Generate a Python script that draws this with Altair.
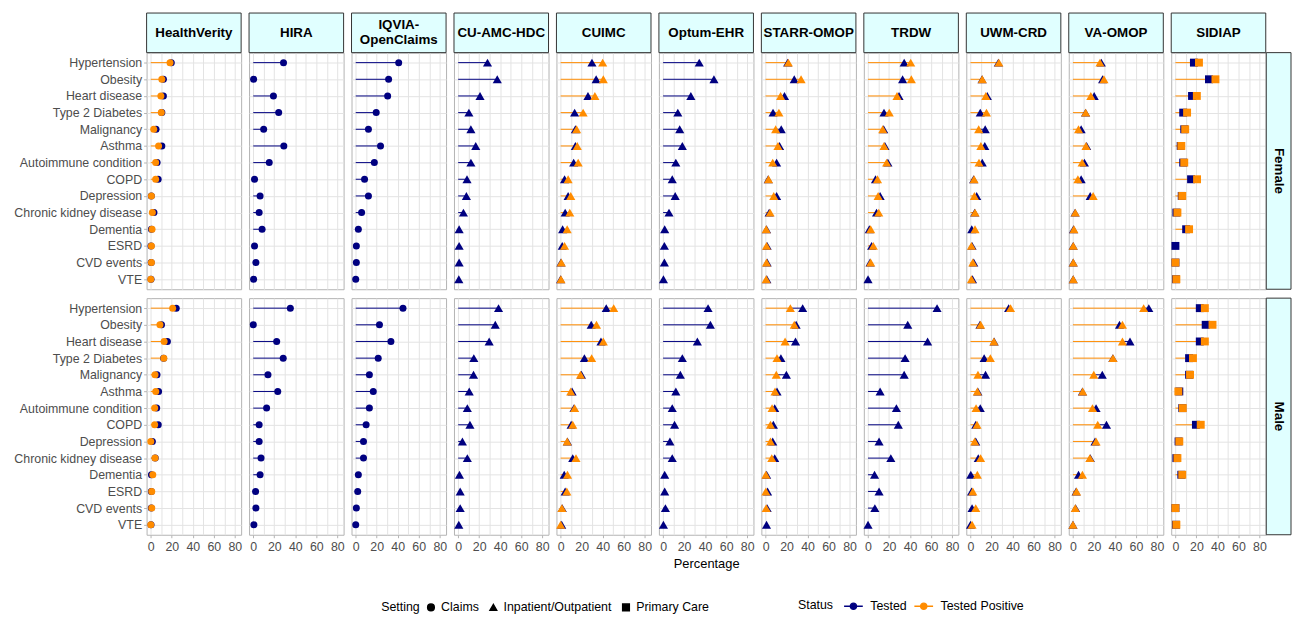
import altair as alt
import pandas as pd

CONDITIONS = ["Hypertension", "Obesity", "Heart disease", "Type 2 Diabetes", "Malignancy",
              "Asthma", "Autoimmune condition", "COPD", "Depression", "Chronic kidney disease",
              "Dementia", "ESRD", "CVD events", "VTE"]
DATABASES = ["HealthVerity", "HIRA", "IQVIA-OpenClaims", "CU-AMC-HDC", "CUIMC", "Optum-EHR",
             "STARR-OMOP", "TRDW", "UWM-CRD", "VA-OMOP", "SIDIAP"]
STRIP_TEXT = ["HealthVerity", "HIRA", "IQVIA-\nOpenClaims", "CU-AMC-HDC", "CUIMC", "Optum-EHR",
              "STARR-OMOP", "TRDW", "UWM-CRD", "VA-OMOP", "SIDIAP"]
DB_SETTING = ["Claims", "Claims", "Claims", "Inpatient/Outpatient", "Inpatient/Outpatient",
              "Inpatient/Outpatient", "Inpatient/Outpatient", "Inpatient/Outpatient",
              "Inpatient/Outpatient", "Inpatient/Outpatient", "Primary Care"]
SEXES = ["Female", "Male"]
STATUSES = ["Tested", "Tested Positive"]
SETTINGS = ["Claims", "Inpatient/Outpatient", "Primary Care"]
SHAPES = ["circle", "triangle-up", "square"]
SYMBOL_SIZES = [50, 85, 64]
COLORS = ["#000080", "#FF8C00"]
X_GRID = [0, 10, 20, 30, 40, 50, 60, 70, 80]
N = None

# values in percent, order as CONDITIONS
HV_F_T = [19.5, 12, 12, 10.5, 5, 10.5, 6, 7, 0.5, 3, 0.6, 0.2, 0.4, 0.2]
HV_F_P = [18.3, 10.5, 9.6, 10, 2.8, 7.4, 4.6, 4.6, 0.6, 1.5, 1.2, 0.6, 0.6, 0]
HV_M_T = [24.2, 10.2, 15.8, 12.2, 5.9, 7.4, 5.6, 7.1, 1.5, 4.2, 0.6, 0.5, 0.5, 0.2]
HV_M_P = [20.8, 8.7, 12.7, 12.4, 4, 4.7, 3.7, 3.7, 0, 4, 1.9, 0.9, 0.9, 0]

HIRA_F_T = [28.8, 0.3, 19.2, 24.2, 9.9, 29.1, 15.2, 1.2, 6.5, 5.6, 8.4, 1.2, 2.5, 0.3]
HIRA_M_T = [35.3, 0, 22.3, 28.5, 14, 23.3, 12.7, 5.6, 5.6, 7.4, 6.5, 2.2, 2.5, 0.6]

IQ_F_T = [40.9, 31.3, 30.4, 19.5, 12.1, 23.6, 17.7, 8.4, 12.1, 5.6, 2.5, 0.6, 0.6, 0]
IQ_M_T = [45, 22.6, 33.5, 21.4, 13, 16.7, 13, 9.9, 7.4, 7.4, 2.5, 1.9, 0.6, 0]

CUAMC_F_T = [27.9, 37.2, 20.8, 10.2, 12.1, 16.7, 12.1, 8.4, 7.8, 5, 0.9, 0.9, 0.9, 0.6]
CUAMC_M_T = [38.4, 35.3, 29.5, 14.9, 14.6, 10.5, 8.7, 11.2, 4, 8.7, 1.2, 1.9, 1.9, 0.6]

CUIMC_F_T = [29.8, 33.8, 26, 13.3, 14, 14, 12.4, 3.7, 7.1, 4.3, 1.9, 1.5, 0.3, 0]
CUIMC_F_P = [40, 40.6, 32.6, 21.4, 15.2, 15.8, 16.7, 7.1, 9.6, 8.7, 6.2, 3.7, 0.6, 0.3]
CUIMC_M_T = [43.4, 29.1, 38.4, 22.6, 19.8, 10.9, 12.7, 10, 6.5, 11.5, 3.4, 4.3, 1.5, 1]
CUIMC_M_P = [50.5, 34.1, 40.6, 29.5, 18.9, 9.6, 13.3, 11.5, 6.2, 14.6, 6.5, 5.9, 1.2, 0]

OPTUM_F_T = [34.4, 48.4, 26.4, 14, 15.8, 18.3, 12.1, 8.7, 11.5, 5.6, 1.5, 1.2, 1.2, 0.3]
OPTUM_M_T = [42.8, 45, 32.6, 18.3, 16.4, 12.1, 8.7, 10.9, 6.5, 8.7, 1.5, 1.5, 2.2, 0.3]

STARR_F_T = [21, 27.3, 18, 7.1, 14.9, 13.3, 10.5, 2.5, 10.5, 3.4, 0.9, 1.5, 1.5, 1.2]
STARR_F_P = [21.7, 33.8, 14.3, 12.7, 9.6, 11.8, 6.8, 2.8, 7.8, 4.3, 0.6, 0.9, 0.9, 0.6]
STARR_M_T = [35.3, 29.1, 28.5, 14.6, 19.8, 10.9, 8.7, 7.4, 6.8, 8.7, 1, 1.9, 1.5, 0.9]
STARR_M_P = [23.6, 27.3, 18.6, 10.9, 10.2, 9, 6.2, 4.7, 4.7, 5.9, 0.3, 0.3, 0.6, N]

TRDW_F_T = [34.4, 32.9, 29.5, 15.2, 14.9, 16.1, 18.9, 7.1, 11.5, 8.1, 1.2, 3.4, 1.9, 0]
TRDW_F_P = [40.6, 41.2, 27.6, 20.2, 14, 15.2, 17.7, 9, 9.6, 10.2, 2.5, 5, 2.5, N]
TRDW_M_T = [65.7, 37.8, 56.7, 35.3, 34.4, 11.5, 27, 28.8, 10.5, 21.7, 6.2, 10.5, 6.5, 0]

UWM_F_T = [26.5, 11, 16, 9.3, 14, 13.6, 11.2, 3, 5.9, 4, 1.2, 1.5, 3.1, 1.9]
UWM_F_P = [27, 11.2, 14.6, 15.2, 7.8, 9.9, 8.1, 3.4, 3.7, 4.3, 4.3, 0.9, 2.2, 0.9]
UWM_M_T = [36.3, 9, 22.5, 13, 14.3, 7, 9.3, 5, 5, 7.4, 0.3, 1, 1.5, 0]
UWM_M_P = [38.1, 9.6, 22.3, 18.9, 7.1, 6.5, 5.3, 6.2, 4, 9.6, 6.5, 2.2, 5, 1.5]

VA_F_T = [27, 28.2, 20.2, 12, 7.8, 13, 10.9, 7.8, 16.4, 2, 0.5, 0.2, 0.2, 0.2]
VA_F_P = [25.7, 29.5, 17, 12.1, 5.3, 12.4, 8.7, 4.7, 19.2, 2.2, 0.9, 0.3, 0.3, 0.3]
VA_M_T = [72.2, 44.3, 54.3, 38, 27.9, 9, 22, 31.9, 21, 16.5, 5.3, 3, 2.5, 0]
VA_M_P = [67.3, 47.1, 47.1, 38.1, 19.8, 9.3, 18.6, 23.6, 22, 16.1, 9, 3.4, 2.2, 0]

SIDIAP_F_T = [17.6, 31.9, 15.8, 7.4, 8.4, 5, 7.4, 14.9, 6, 0.9, 10.2, 0, 0, 0.5]
SIDIAP_F_P = [22.4, 38.1, 20.4, 11.1, 9.3, 5.6, 8.4, 20.6, 6.5, 1.9, 13, N, 0, 0.9]
SIDIAP_M_T = [23.2, 28.8, 23.2, 13, 13, 3.7, 6.5, 19.5, 3, 0.9, 5.6, N, 0, 0.5]
SIDIAP_M_P = [28, 35.3, 28, 16.7, 13.9, 2.8, 7, 24.1, 3.7, 1.9, 6.5, N, 0, 0.9]

SERIES = {
    ("HealthVerity", "Female", "Tested"): HV_F_T, ("HealthVerity", "Female", "Tested Positive"): HV_F_P,
    ("HealthVerity", "Male", "Tested"): HV_M_T, ("HealthVerity", "Male", "Tested Positive"): HV_M_P,
    ("HIRA", "Female", "Tested"): HIRA_F_T, ("HIRA", "Male", "Tested"): HIRA_M_T,
    ("IQVIA-OpenClaims", "Female", "Tested"): IQ_F_T, ("IQVIA-OpenClaims", "Male", "Tested"): IQ_M_T,
    ("CU-AMC-HDC", "Female", "Tested"): CUAMC_F_T, ("CU-AMC-HDC", "Male", "Tested"): CUAMC_M_T,
    ("CUIMC", "Female", "Tested"): CUIMC_F_T, ("CUIMC", "Female", "Tested Positive"): CUIMC_F_P,
    ("CUIMC", "Male", "Tested"): CUIMC_M_T, ("CUIMC", "Male", "Tested Positive"): CUIMC_M_P,
    ("Optum-EHR", "Female", "Tested"): OPTUM_F_T, ("Optum-EHR", "Male", "Tested"): OPTUM_M_T,
    ("STARR-OMOP", "Female", "Tested"): STARR_F_T, ("STARR-OMOP", "Female", "Tested Positive"): STARR_F_P,
    ("STARR-OMOP", "Male", "Tested"): STARR_M_T, ("STARR-OMOP", "Male", "Tested Positive"): STARR_M_P,
    ("TRDW", "Female", "Tested"): TRDW_F_T, ("TRDW", "Female", "Tested Positive"): TRDW_F_P,
    ("TRDW", "Male", "Tested"): TRDW_M_T,
    ("UWM-CRD", "Female", "Tested"): UWM_F_T, ("UWM-CRD", "Female", "Tested Positive"): UWM_F_P,
    ("UWM-CRD", "Male", "Tested"): UWM_M_T, ("UWM-CRD", "Male", "Tested Positive"): UWM_M_P,
    ("VA-OMOP", "Female", "Tested"): VA_F_T, ("VA-OMOP", "Female", "Tested Positive"): VA_F_P,
    ("VA-OMOP", "Male", "Tested"): VA_M_T, ("VA-OMOP", "Male", "Tested Positive"): VA_M_P,
    ("SIDIAP", "Female", "Tested"): SIDIAP_F_T, ("SIDIAP", "Female", "Tested Positive"): SIDIAP_F_P,
    ("SIDIAP", "Male", "Tested"): SIDIAP_M_T, ("SIDIAP", "Male", "Tested Positive"): SIDIAP_M_P,
}

rows = []
for db, setting in zip(DATABASES, DB_SETTING):
    for sex in SEXES:
        tested = SERIES.get((db, sex, "Tested"))
        positive = SERIES.get((db, sex, "Tested Positive"))
        for status, vals in (("Tested", tested), ("Tested Positive", positive)):
            if vals is None:
                continue
            for k, (cond, v) in enumerate(zip(CONDITIONS, vals)):
                if v is None:
                    continue
                start = 0
                # the Tested line runs under the Tested Positive line, so only its visible part is drawn
                if status == "Tested" and positive is not None and positive[k] is not None:
                    start = min(positive[k], v)
                rows.append(dict(db=db, sex=sex, status=status, setting=setting, cond=cond,
                                 value=v, start=start))
df = pd.DataFrame(rows)

W, H = 95.5, 239
STRIP_H = 40
ROW_STRIP_W = 25
LINE_H = 15
GRID = "#E3E3E3"
BORDER = "#B3B3B3"
LABEL = "#4D4D4D"
STRIP_FILL = "#E0FFFF"
STRIP_STROKE = "#333333"
FONT = "Liberation Sans"

color_scale = alt.Scale(domain=STATUSES, range=COLORS)
shape_scale = alt.Scale(domain=SETTINGS, range=SHAPES)
x_scale = alt.Scale(domain=[-4, 86], nice=False, zero=False)
y_scale = alt.Scale(type="point", domain=CONDITIONS, padding=0.6)

status_legend = alt.Legend(
    title="Status", orient="none", legendX=658, legendY=551, direction="horizontal",
    titleOrient="left", titleFontWeight="normal", titleFontSize=12.5, titleColor="black",
    labelFontSize=12.5, labelColor="black", titlePadding=12, columnPadding=4, labelOffset=9,
    symbolType="M-1.35,0H1.35M0.45,0A0.45,0.45,0,1,1,-0.45,0A0.45,0.45,0,1,1,0.45,0Z",
    symbolSize=196, symbolStrokeWidth=1.4, symbolOpacity=1,
)
setting_legend = alt.Legend(
    title="Setting", orient="none", legendX=237, legendY=554, direction="horizontal",
    titleOrient="left", titleFontWeight="normal", titleFontSize=12.5, titleColor="black",
    labelFontSize=12.5, labelColor="black", titlePadding=5, columnPadding=7, labelOffset=4,
    symbolFillColor="black", symbolStrokeColor="black", symbolSize=45, symbolOpacity=1,
)

tick_color = {"condition": {"test": "datum.value % 20 === 0", "value": BORDER}, "value": "transparent"}


def make_axis(bottom):
    if bottom:
        return alt.Axis(values=X_GRID, grid=True, gridColor=GRID, domain=False, ticks=True, tickSize=3,
                        tickColor=tick_color, labelExpr="datum.value % 20 === 0 ? datum.label : ''",
                        labelColor=LABEL, labelFontSize=12.5, labelPadding=3, labelFlush=False,
                        titleFontSize=13, titleFontWeight="normal", titleColor="black", titlePadding=5)
    return alt.Axis(values=X_GRID, grid=True, gridColor=GRID, domain=False, ticks=False, labels=False)


def make_y(first):
    if first:
        axis = alt.Axis(grid=True, gridColor=GRID, domain=False, ticks=True, tickSize=3, tickColor=BORDER,
                        labelColor=LABEL, labelFontSize=12.5, labelPadding=2)
    else:
        axis = alt.Axis(grid=True, gridColor=GRID, domain=False, ticks=False, labels=False)
    return alt.Y("cond:N", scale=y_scale, axis=axis, title=None)


def panel(i, db, sex):
    sub = df[(df.db == db) & (df.sex == sex)]
    bottom = sex == "Male"
    axis = make_axis(bottom)
    if bottom and db == "Optum-EHR":
        x_rule = alt.X("start:Q", scale=x_scale, axis=axis, title="Percentage")
        x_pt = alt.X("value:Q", scale=x_scale, axis=axis, title="Percentage")
    else:
        x_rule = alt.X("start:Q", scale=x_scale, axis=axis, title=None)
        x_pt = alt.X("value:Q", scale=x_scale, axis=axis, title=None)
    y = make_y(i == 0)
    setting = DB_SETTING[i]
    size = SYMBOL_SIZES[SETTINGS.index(setting)]
    rules = alt.Chart(sub).mark_rule(strokeWidth=1, opacity=1).encode(
        x=x_rule, x2=alt.X2("value:Q"), y=y,
        color=alt.Color("status:N", scale=color_scale, legend=status_legend),
    )
    points = alt.Chart(sub).mark_point(filled=True, opacity=1, size=size).encode(
        x=x_pt, y=y,
        color=alt.Color("status:N", scale=color_scale, legend=status_legend),
        shape=alt.Shape("setting:N", scale=shape_scale, legend=setting_legend),
    )
    layers = [rules, points]
    lab = pd.DataFrame({"label": [STRIP_TEXT[i]], "row": [sex]})
    if sex == "Female":
        n_lines = STRIP_TEXT[i].count("\n") + 1
        layers.append(alt.Chart(lab).mark_rect(fill=STRIP_FILL, stroke=STRIP_STROKE, strokeWidth=1).encode(
            x=alt.value(0), x2=alt.value(W), y=alt.value(-STRIP_H), y2=alt.value(0)))
        layers.append(alt.Chart(lab).mark_text(fontWeight="bold", fontSize=13.5, color="black",
                                               lineBreak="\n", lineHeight=LINE_H, baseline="middle").encode(
            x=alt.value(W / 2), y=alt.value(-STRIP_H / 2 - (n_lines - 1) * LINE_H / 2), text="label:N"))
    if i == len(DATABASES) - 1:
        layers.append(alt.Chart(lab).mark_rect(fill=STRIP_FILL, stroke=STRIP_STROKE, strokeWidth=1).encode(
            x=alt.value(W + 0.5), x2=alt.value(W + 0.5 + ROW_STRIP_W), y=alt.value(0), y2=alt.value(H)))
        layers.append(alt.Chart(lab).mark_text(fontWeight="bold", fontSize=13.5, color="black",
                                               angle=90, baseline="middle").encode(
            x=alt.value(W + 0.5 + ROW_STRIP_W / 2), y=alt.value(H / 2), text="row:N"))
    return alt.layer(*layers).properties(width=W, height=H)


cells = []
for sex in SEXES:
    for i, db in enumerate(DATABASES):
        cells.append(panel(i, db, sex))

chart = alt.concat(*cells, columns=len(DATABASES), spacing={"row": 7, "column": 5.5},
                   align="each", bounds="full").resolve_scale(
    color="shared", shape="shared"
).properties(
    padding={"left": 5, "top": 1, "right": 0, "bottom": 0}
).configure(
    font=FONT
).configure_view(
    stroke=BORDER, strokeWidth=1
).configure_mark(
    color="black"
)

chart.save("out.html", embed_options={"renderer": "svg", "actions": False})
